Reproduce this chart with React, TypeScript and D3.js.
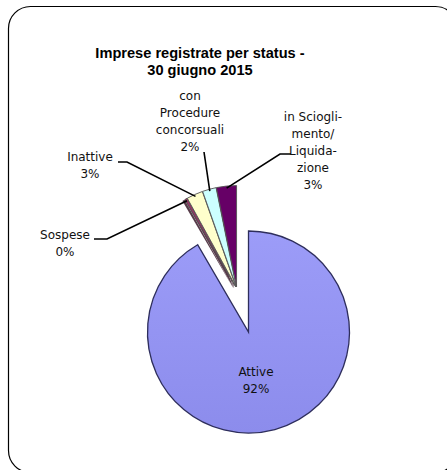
import React from "react";
import * as d3 from "d3";

const categories = ["Attive", "Sospese", "Inattive", "con Procedure concorsuali", "in Scioglimento/Liquidazione"];
const values = [91.6, 0.4, 2.6, 2.2, 3.2];
const percentLabels = ["92%", "0%", "3%", "2%", "3%"];
const labelLines = [
  ["Attive"],
  ["Sospese"],
  ["Inattive"],
  ["con", "Procedure", "concorsuali"],
  ["in Sciogli-", "mento/", "Liquida-", "zione"],
];
const colors = ["#9696f4", "#993366", "#ffffcc", "#ccffff", "#660066"];
const titleLines = ["Imprese registrate per status -", "30 giugno 2015"];

// layout (label anchor: center x, first line center y; elbow: horizontal leader segment)
const labelLayout = [
  { x: 256, y: 372, elbow: null as null | [number, number, number] },
  { x: 65, y: 235, elbow: [94, 107, 239] as [number, number, number] },
  { x: 90, y: 157, elbow: [118, 127, 162] as [number, number, number] },
  { x: 190, y: 96, elbow: null },
  { x: 313, y: 117, elbow: [291, 280, 154] as [number, number, number] },
];
const procLeaderStart: [number, number] = [204, 152];

export default function App() {
  const W = 447, H = 470;
  const cx = 248.5, cy = 332, r = 101;
  const lineH = 17;
  const font = "'DejaVu Sans', Verdana, sans-serif";

  const pie = d3.pie<number>().sort(null).value((d) => d);
  const arcs = pie(values);
  const arc = d3.arc<d3.PieArcDatum<number>>().innerRadius(0).outerRadius(r);

  // group explosion of the small slices
  const small = arcs.slice(1);
  const gMid = (small[0].startAngle + small[small.length - 1].endAngle) / 2;
  const gx = Math.sin(gMid) * 45;
  const gy = -Math.cos(gMid) * 45;

  const offsets = arcs.map((a, i) => {
    if (i === 0) return [0, 0];
    const m = (a.startAngle + a.endAngle) / 2;
    return [gx + Math.sin(m) * 2, gy - Math.cos(m) * 2];
  });

  const leaderEnd = (i: number): [number, number] => {
    const a = arcs[i];
    const m = (a.startAngle + a.endAngle) / 2;
    const rr = r - 2;
    return [cx + offsets[i][0] + Math.sin(m) * rr, cy + offsets[i][1] - Math.cos(m) * rr];
  };

  return (
    <svg width={W} height={H} style={{ display: "block", position: "absolute", left: 0, top: 0 }}>
      <defs>
        <linearGradient id="attGrad" x1="0" y1="0" x2="0" y2="1">
          <stop offset="0" stopColor="#9c9cf8" />
          <stop offset="1" stopColor="#8c8cec" />
        </linearGradient>
      </defs>
      <rect x={8.5} y={6.5} width={449} height={466} rx={22} ry={22} fill="#fff" stroke="#000" strokeWidth={1.2} />

      {titleLines.map((t, i) => (
        <text key={i} x={200} y={57.5 + i * 17} textAnchor="middle" fontFamily="'Liberation Sans', Arial, sans-serif" fontWeight="bold" fontSize={14.6} fill="#000">
          {t}
        </text>
      ))}

      {/* small slices shadow */}
      {arcs.slice(1).map((a, j) => {
        const i = j + 1;
        return (
          <path key={"s" + i} d={arc(a) || ""} transform={`translate(${cx + offsets[i][0] - 2.5},${cy + offsets[i][1] + 1.5})`} fill="#3a1a2a" opacity={0.85} />
        );
      })}
      {arcs.map((a, i) => (
        <path
          key={i}
          d={arc(a) || ""}
          transform={`translate(${cx + offsets[i][0]},${cy + offsets[i][1]})`}
          fill={i === 0 ? "url(#attGrad)" : colors[i]}
          stroke={i === 0 ? "#2e2e5c" : "#555"}
          strokeWidth={i === 0 ? 1.3 : 0.9}
        />
      ))}

      {/* leader lines */}
      {labelLayout.map((l, i) => {
        if (i === 0) return null;
        const [ex, ey] = leaderEnd(i);
        let pts: [number, number][];
        if (l.elbow) {
          pts = [[l.elbow[0], l.elbow[2]], [l.elbow[1], l.elbow[2]], [ex, ey]];
        } else {
          pts = [procLeaderStart, [ex, ey]];
        }
        return <path key={"l" + i} d={d3.line()(pts) || ""} fill="none" stroke="#000" strokeWidth={1.6} />;
      })}

      {/* labels */}
      {labelLayout.map((l, i) => {
        const lines = [...labelLines[i], percentLabels[i]];
        return (
          <text key={"t" + i} textAnchor="middle" fontFamily={font} fontSize={12} fill="#111">
            {lines.map((s, k) => (
              <tspan key={k} x={l.x} y={l.y + k * lineH} dy="0.35em">
                {s}
              </tspan>
            ))}
          </text>
        );
      })}
    </svg>
  );
}
